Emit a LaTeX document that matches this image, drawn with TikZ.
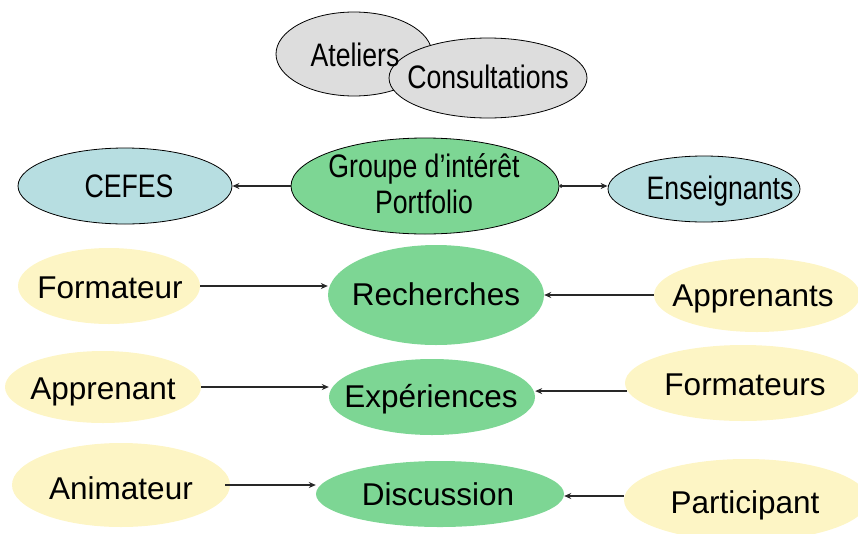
\documentclass[tikz,border=0pt]{standalone}
\usepackage{fontspec}
\setmainfont{Liberation Sans}
\newfontfamily\narrowfont[FakeStretch=0.82]{Liberation Sans}
\usetikzlibrary{shapes.geometric,arrows.meta}
\definecolor{grayfill}{RGB}{221,221,221}
\definecolor{bluefill}{RGB}{183,222,225}
\definecolor{greenfill}{RGB}{125,214,148}
\definecolor{yellowfill}{RGB}{253,245,197}
\definecolor{linecol}{RGB}{40,40,40}
\begin{document}
\begin{tikzpicture}[x=1pt,y=-1pt,
  topell/.style={ellipse,draw=black,line width=0.8pt,inner sep=0pt},
  softell/.style={ellipse,draw=none,inner sep=0pt},
  bigtxt/.style={font=\fontsize{31.5}{36}\selectfont,inner sep=0pt,text height=22.5pt,text depth=0pt},
  toptxt/.style={font=\narrowfont\fontsize{32.5}{36}\selectfont,inner sep=0pt,text height=23pt,text depth=0pt},
  arr/.style={draw=linecol,line width=1.2pt,-{Stealth[length=7pt,width=6pt]}}]
\useasboundingbox (0,0) rectangle (858,533);
\clip (0,0) rectangle (858,533);
% ellipses
\node[topell,fill=grayfill,minimum width=156pt,minimum height=84pt] (ateliers) at (354,54) {};
\node[topell,fill=grayfill,minimum width=198pt,minimum height=80pt] (consult) at (488,78) {};
\node[topell,fill=bluefill,minimum width=214pt,minimum height=76pt] (cefes) at (125,186) {};
\node[topell,fill=greenfill,minimum width=268pt,minimum height=96pt] (groupe) at (425,186) {};
\node[topell,fill=bluefill,minimum width=192pt,minimum height=66pt] (ens) at (704,189) {};
\node[softell,fill=yellowfill,minimum width=182pt,minimum height=76pt] (formateur) at (109,286) {};
\node[softell,fill=greenfill,minimum width=216pt,minimum height=100pt] (rech) at (436,295) {};
\node[softell,fill=yellowfill,minimum width=206pt,minimum height=74pt] (apprenants) at (757,295) {};
\node[softell,fill=yellowfill,minimum width=196pt,minimum height=72pt] (apprenant) at (103,387) {};
\node[softell,fill=greenfill,minimum width=206pt,minimum height=76pt] (exp) at (432,397) {};
\node[softell,fill=yellowfill,minimum width=236pt,minimum height=76pt] (formateurs) at (743,383) {};
\node[softell,fill=yellowfill,minimum width=218pt,minimum height=84pt] (animateur) at (121,485) {};
\node[softell,fill=greenfill,minimum width=248pt,minimum height=66pt] (disc) at (440,494) {};
\node[softell,fill=yellowfill,minimum width=244pt,minimum height=82pt] (particip) at (746,500) {};
% texts
\node[toptxt] (tAteliers) at (355,55) {Ateliers};
\node[toptxt] (tConsult) at (488,77) {Consultations};
\node[toptxt] (tCefes) at (129,186) {CEFES};
\node[font=\narrowfont\fontsize{32.5}{36}\selectfont,inner sep=0pt,align=center] (tGroupe) at (424,184) {Groupe d’intérêt\\Portfolio};
\node[toptxt] (tEns) at (720,188) {Enseignants};
\node[bigtxt] (tFormateur) at (110,287) {Formateur};
\node[bigtxt] (tRech) at (436,294) {Recherches};
\node[bigtxt] (tApprenants) at (753,295) {Apprenants};
\node[bigtxt] (tApprenant) at (103,388) {Apprenant};
\node[bigtxt] (tExp) at (431,396) {Expériences};
\node[bigtxt] (tFormateurs) at (745,384) {Formateurs};
\node[bigtxt] (tAnimateur) at (121,488) {Animateur};
\node[bigtxt] (tDisc) at (438,494) {Discussion};
\node[bigtxt] (tParticip) at (745,502) {Participant};
% connectors
\draw[arr] (groupe.west) -- (cefes.east);
\draw[arr,{Circle[length=3.5pt]}-{Stealth[length=7pt,width=6pt]}] (groupe.east) -- (groupe.east -| ens.west);
\draw[arr] (formateur.east) -- (formateur.east -| rech.west);
\draw[arr] (apprenants.west) -- (apprenants.west -| rech.east);
\draw[arr] (apprenant.east) -- (apprenant.east -| exp.west);
\draw[arr] (formateurs.184) -- (formateurs.184 -| exp.east);
\draw[arr] ([xshift=-5pt]animateur.east) -- (animateur.east -| disc.west);
\draw[arr] ([yshift=4pt]particip.west) -- ([yshift=4pt]particip.west -| disc.east);
\end{tikzpicture}
\end{document}
